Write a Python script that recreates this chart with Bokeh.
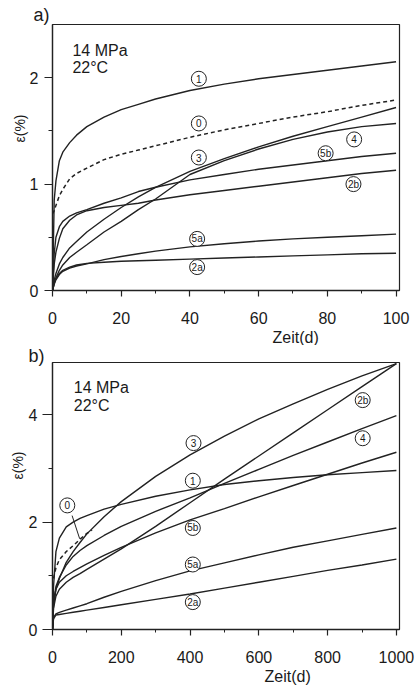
from bokeh.plotting import figure
from bokeh.layouts import column
from bokeh.models import Label, FixedTicker, Range1d, Title
from bokeh.core.properties import value
from bokeh.embed import file_html
from bokeh.resources import INLINE

FONT = "Liberation Sans"
INK = "#222222"

# ---------------- panel a) : 0..100 days ----------------
days_a = [0, 0.5, 1, 2, 3, 5, 7, 10, 15, 20, 25, 30, 40, 50, 60, 70, 80, 90, 100]
a_1  = [0, 0.85, 1.03, 1.22, 1.30, 1.39, 1.46, 1.54, 1.63, 1.70, 1.75, 1.80, 1.88, 1.94, 1.99, 2.03, 2.07, 2.11, 2.15]
a_0  = [0.72, 0.75, 0.80, 0.89, 0.95, 1.05, 1.10, 1.15, 1.23, 1.28, 1.32, 1.36, 1.44, 1.51, 1.57, 1.63, 1.68, 1.74, 1.79]
a_3  = [0, 0.10, 0.16, 0.25, 0.31, 0.40, 0.46, 0.55, 0.67, 0.78, 0.88, 0.97, 1.12, 1.24, 1.35, 1.45, 1.54, 1.63, 1.72]
a_4  = [0, 0.07, 0.12, 0.19, 0.24, 0.31, 0.36, 0.43, 0.55, 0.65, 0.76, 0.86, 1.09, 1.22, 1.33, 1.42, 1.49, 1.54, 1.57]
a_5b = [0, 0.35, 0.50, 0.60, 0.65, 0.70, 0.73, 0.76, 0.82, 0.87, 0.93, 0.97, 1.04, 1.09, 1.14, 1.18, 1.22, 1.26, 1.29]
a_2b = [0, 0.25, 0.36, 0.49, 0.58, 0.66, 0.71, 0.75, 0.78, 0.80, 0.82, 0.85, 0.90, 0.94, 0.98, 1.02, 1.06, 1.10, 1.13]
a_5a = [0, 0.06, 0.10, 0.15, 0.18, 0.21, 0.23, 0.25, 0.29, 0.32, 0.345, 0.37, 0.41, 0.44, 0.465, 0.485, 0.50, 0.515, 0.53]
a_2a = [0, 0.07, 0.11, 0.16, 0.19, 0.22, 0.24, 0.255, 0.265, 0.275, 0.28, 0.285, 0.295, 0.305, 0.315, 0.325, 0.335, 0.345, 0.35]

a_lab_text = ["1", "0", "3", "4", "5b", "2b", "5a", "2a"]
a_lab_x = [42.6, 42.6, 42.6, 87.8, 79.5, 87.6, 42.1, 42.1]
a_lab_y = [1.99, 1.57, 1.25, 1.42, 1.29, 1.00, 0.485, 0.22]

a_xticks = [0, 20, 40, 60, 80, 100]
a_xminor = [10, 30, 50, 70, 90]
a_yticks = [0, 1, 2]
a_yminor = [0.5, 1.5]

# ---------------- panel b) : 0..1000 days ----------------
days_b = [0, 3, 10, 20, 40, 60, 80, 100, 150, 200, 300, 400, 500, 600, 700, 800, 900, 1000]
b_1  = [0, 0.80, 1.45, 1.70, 1.91, 2.00, 2.07, 2.12, 2.24, 2.33, 2.48, 2.60, 2.70, 2.77, 2.83, 2.88, 2.92, 2.96]
b_3  = [0, 0.45, 0.75, 0.95, 1.25, 1.45, 1.62, 1.78, 2.10, 2.38, 2.85, 3.25, 3.60, 3.92, 4.20, 4.47, 4.72, 4.95]
b_2b = [0, 0.40, 0.62, 0.75, 0.88, 0.97, 1.04, 1.12, 1.31, 1.50, 1.92, 2.36, 2.80, 3.23, 3.66, 4.09, 4.52, 4.95]
b_4  = [0, 0.50, 0.80, 0.97, 1.20, 1.36, 1.47, 1.56, 1.75, 1.92, 2.20, 2.45, 2.72, 2.98, 3.24, 3.49, 3.74, 3.98]
b_5b = [0, 0.50, 0.75, 0.88, 1.00, 1.08, 1.15, 1.22, 1.38, 1.53, 1.80, 2.04, 2.25, 2.47, 2.68, 2.89, 3.10, 3.30]
b_5a = [0, 0.22, 0.29, 0.32, 0.36, 0.40, 0.44, 0.48, 0.60, 0.71, 0.91, 1.09, 1.24, 1.39, 1.53, 1.65, 1.77, 1.89]
b_2a = [0, 0.20, 0.27, 0.28, 0.30, 0.32, 0.34, 0.36, 0.41, 0.46, 0.56, 0.66, 0.77, 0.88, 0.99, 1.10, 1.20, 1.31]
days_b0 = [3, 10, 20, 40, 60, 80, 100, 115]
b_0 = [0.95, 1.15, 1.30, 1.45, 1.56, 1.68, 1.79, 1.85]

b_lab_text = ["3", "2b", "4", "1", "0", "5b", "5a", "2a"]
b_lab_x = [410, 902, 902, 408, 43, 408, 408, 408]
b_lab_y = [3.47, 4.27, 3.56, 2.77, 2.31, 1.89, 1.21, 0.51]
b_leader_x = [57, 79]
b_leader_y = [2.12, 1.69]

b_xticks = [0, 200, 400, 600, 800, 1000]
b_xminor = [100, 300, 500, 700, 900]
b_yticks = [0, 2, 4]
b_yminor = [1, 3]


def make_fig(height, xr, yr, bl, br, bt, bb, xt, xm, yt, ym, ytick_out, ystand):
    p = figure(width=415, height=height, x_range=Range1d(*xr), y_range=Range1d(*yr),
               output_backend="svg", toolbar_location=None,
               min_border_left=bl, min_border_right=br, min_border_top=bt, min_border_bottom=bb)
    p.xgrid.visible = False
    p.ygrid.visible = False
    p.background_fill_color = "white"
    p.border_fill_color = "white"
    p.outline_line_color = INK
    p.outline_line_width = 1.2
    for ax in (p.xaxis[0], p.yaxis[0]):
        ax.axis_line_color = INK
        ax.axis_line_width = 1.3
        ax.major_tick_line_color = INK
        ax.minor_tick_line_color = INK
        ax.major_tick_line_width = 1.2
        ax.minor_tick_line_width = 1.0
        ax.major_tick_in = 0
        ax.minor_tick_in = 0
        ax.major_label_text_font = FONT
        ax.major_label_text_font_size = "16px"
        ax.major_label_text_color = "#1a1a1a"
    p.xaxis[0].ticker = FixedTicker(ticks=xt, minor_ticks=xm)
    p.yaxis[0].ticker = FixedTicker(ticks=yt, minor_ticks=ym)
    p.xaxis[0].major_tick_out = 6
    p.xaxis[0].minor_tick_out = 3
    p.xaxis[0].major_label_standoff = 15
    p.yaxis[0].major_tick_out = ytick_out
    p.yaxis[0].minor_tick_out = 4
    p.yaxis[0].major_label_standoff = ystand
    p.yaxis[0].major_label_orientation = "horizontal"
    return p


def panel_texts(p, letter, letter_offset, letter_standoff, xlabel_offset, ylabel_offset, ylabel_standoff):
    p.title.text = letter
    p.title.align = "left"
    p.title.offset = letter_offset
    p.title.standoff = letter_standoff
    p.title.text_font = FONT
    p.title.text_font_size = "18px"
    p.title.text_font_style = "normal"
    p.title.text_color = "#1a1a1a"
    p.add_layout(Title(text="Zeit(d)", align="left", offset=xlabel_offset, standoff=0,
                       text_font=FONT, text_font_size="16px", text_font_style="normal",
                       text_color="#1a1a1a"), "below")
    p.add_layout(Title(text="ε(%)", align="left", offset=ylabel_offset, standoff=ylabel_standoff,
                       text_font=FONT, text_font_size="14px", text_font_style="normal",
                       text_color="#1a1a1a"), "left")


def lab(p, x, y, text, size="16px"):
    p.add_layout(Label(x=x, y=y, text=text, text_font=FONT, text_font_size=size,
                       text_color="#1a1a1a", text_align="left", text_baseline="middle"))


def circled(p, xs, ys, texts):
    p.scatter(xs, ys, marker="circle", size=15, fill_color="white", line_color=INK, line_width=1)
    p.text(xs, ys, text=texts, text_font=value(FONT), text_font_size="10px",
           text_align="center", text_baseline="middle", text_color="#1a1a1a")


# ---- top figure ----
pa = make_fig(345, (0, 101), (0, 2.5), 52, 10, 24, 54, a_xticks, a_xminor, a_yticks, a_yminor, 8, 6)
for ys in (a_1, a_3, a_4, a_5b, a_2b, a_5a, a_2a):
    pa.line(days_a, ys, line_color=INK, line_width=1.4)
pa.line(days_a, a_0, line_color=INK, line_width=1.5, line_dash="4 3")
circled(pa, a_lab_x, a_lab_y, a_lab_text)
lab(pa, 5.8, 2.257, "14 MPa")
lab(pa, 5.8, 2.10, "22°C")
panel_texts(pa, "a)", -19, 0, 220, 148, -3)

# ---- bottom figure ----
pb = make_fig(344, (0, 1009), (0, 4.97), 47, 16, 17, 60, b_xticks, b_xminor, b_yticks, b_yminor, 10, 5)
for ys in (b_1, b_3, b_2b, b_4, b_5b, b_5a, b_2a):
    pb.line(days_b, ys, line_color=INK, line_width=1.4)
pb.line(days_b0, b_0, line_color=INK, line_width=1.5, line_dash="4 3")
pb.line(b_leader_x, b_leader_y, line_color=INK, line_width=1)
circled(pb, b_lab_x, b_lab_y, b_lab_text)
lab(pb, 61.9, 4.51, "14 MPa")
lab(pb, 61.9, 4.17, "22°C")
panel_texts(pb, "b)", -24, -6, 212, 150, -1)

layout = column(pa, pb, spacing=0)
open("out.html", "w").write(file_html(layout, INLINE))
